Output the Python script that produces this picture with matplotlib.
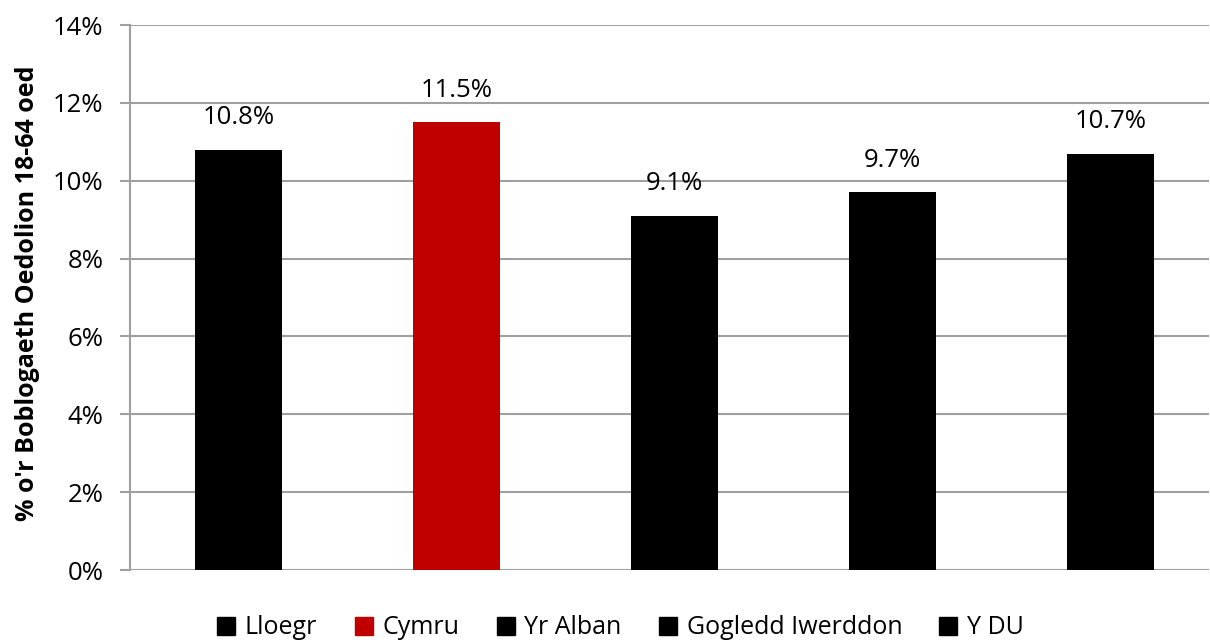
import matplotlib
matplotlib.use('Agg')
import matplotlib.pyplot as plt
from matplotlib.lines import Line2D

plt.rcParams['font.family'] = ['Open Sans', 'DejaVu Sans']

# data
categories = ['Lloegr', 'Cymru', 'Yr Alban', 'Gogledd Iwerddon', 'Y DU']
values = [10.8, 11.5, 9.1, 9.7, 10.7]
labels = ['10.8%', '11.5%', '9.1%', '9.7%', '10.7%']
colors = ['#000000', '#C00000', '#000000', '#000000', '#000000']
yticks = [0, 2, 4, 6, 8, 10, 12, 14]

fig = plt.figure(figsize=(12.1, 6.42), dpi=100)
ax = fig.add_axes([130 / 1210, 0.112, 1079 / 1210, 0.849])

x = range(len(categories))
ax.bar(x, values, width=0.4, color=colors, zorder=3)

for i, v in enumerate(values):
    ax.text(i, v + 0.5, labels[i], ha='center', va='bottom', fontsize=18.5)

ax.set_ylim(0, 14)
ax.set_xlim(-0.498, 4.452)
ax.set_yticks(yticks)
ax.set_yticklabels([f'{t}%' for t in yticks], fontsize=18.5)
ax.set_xticks([])
ax.yaxis.grid(True, color='#A0A0A0', linewidth=1.5, zorder=0)
ax.tick_params(axis='y', length=7, width=1.5, color='#A0A0A0', pad=12)

for s in ['top', 'right', 'bottom']:
    ax.spines[s].set_visible(False)
ax.spines['left'].set_color('#A0A0A0')
ax.spines['left'].set_linewidth(1.5)

ax.set_ylabel("% o'r Boblogaeth Oedolion 18-64 oed", fontsize=18, fontweight='bold')
ax.yaxis.set_label_coords(-0.083, 0.508)

handles = [Line2D([], [], marker='s', linestyle='none', markersize=12.5, color=c) for c in colors]
fig.legend(handles, categories, loc='center', bbox_to_anchor=(0.512, 0.022), ncol=5,
           frameon=False, fontsize=18, handletextpad=0.3, columnspacing=1.4, handlelength=0.9)

fig.savefig('out.png', dpi=100)
